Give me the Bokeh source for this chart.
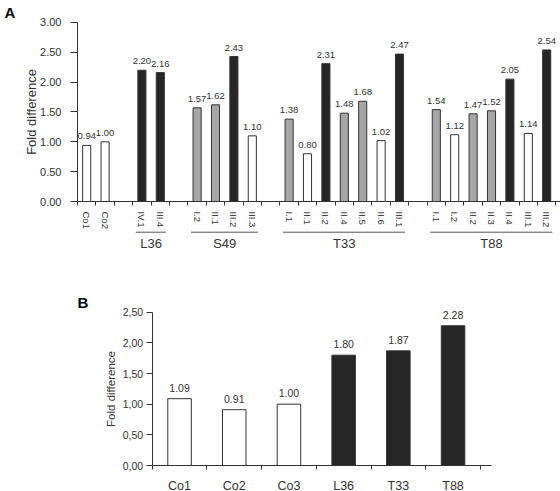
from bokeh.plotting import figure
from bokeh.models import Range1d, FixedTicker, ColumnDataSource, NumeralTickFormatter
from bokeh.layouts import column
from bokeh.embed import file_html
from bokeh.resources import INLINE
from bokeh.core.properties import value

FONT = "Liberation Sans"
TXT = "#333333"
LINE = "#333333"

# ---------------- Panel A data ----------------
a_group_names = ["", "L36", "S49", "T33", "T88"]
a_group_sizes = [2, 2, 4, 7, 7]
a_labels = ["Co1", "Co2",
            "IV.1", "III.4",
            "I.2", "II.1", "III.2", "III.3",
            "I.1", "II.1", "II.2", "II.4", "II.5", "II.6", "III.1",
            "I.1", "I.2", "II.2", "II.3", "II.4", "III.1", "III.2"]
a_values = [0.94, 1.00,
            2.20, 2.16,
            1.57, 1.62, 2.43, 1.10,
            1.38, 0.80, 2.31, 1.48, 1.68, 1.02, 2.47,
            1.54, 1.12, 1.47, 1.52, 2.05, 1.14, 2.54]
a_classes = ["control", "control",
             "high", "high",
             "mid", "mid", "high", "low",
             "mid", "low", "high", "mid", "mid", "low", "high",
             "mid", "low", "mid", "mid", "high", "low", "high"]
a_y_ticks = [0.0, 0.5, 1.0, 1.5, 2.0, 2.5, 3.0]

# ---------------- Panel B data ----------------
b_labels = ["Co1", "Co2", "Co3", "L36", "T33", "T88"]
b_values = [1.09, 0.91, 1.00, 1.80, 1.87, 2.28]
b_classes = ["control", "control", "control", "high", "high", "high"]
b_y_ticks = [0.0, 0.5, 1.0, 1.5, 2.0, 2.5]

fill_map = {"control": "white", "low": "white", "mid": "#a6a6a6", "high": "#262626"}


def style_common(p):
    p.xgrid.visible = False
    p.ygrid.visible = False
    p.outline_line_color = None
    p.background_fill_color = "white"
    p.border_fill_color = "white"
    for ax in (p.xaxis, p.yaxis):
        ax.axis_line_color = LINE
        ax.major_tick_line_color = LINE
        ax.minor_tick_line_color = LINE
        ax.major_label_text_color = TXT
        ax.major_label_text_font = FONT
        ax.axis_label_text_font = FONT
        ax.axis_label_text_font_style = "normal"
        ax.axis_label_text_color = TXT
        ax.major_tick_in = 0
        ax.minor_tick_in = 0
        ax.fixed_location = 0


# ---------------- Panel A ----------------
A_W, A_H = 560, 290
A_X0, A_SLOT = 77.0, 18.4      # canvas px of x=0, px per category slot
A_Y0, A_UNIT = 201.0, 59.67    # canvas px of y=0, px per unit

a_x = []
spans = []
pos = 0
for name, size in zip(a_group_names, a_group_sizes):
    start = pos
    for k in range(size):
        a_x.append(pos + 0.5)
        pos += 1
    spans.append((name, start + 0.5, pos - 0.5))
    pos += 1
n_slots = pos - 1

srcA = ColumnDataSource(dict(
    x=a_x, top=a_values,
    fill=[fill_map[c] for c in a_classes],
    label=["%.2f" % v for v in a_values],
))

ax_start, ax_end = -A_X0 / A_SLOT, (A_W - A_X0) / A_SLOT
ay_start, ay_end = -(A_H - A_Y0) / A_UNIT, A_Y0 / A_UNIT
pA = figure(width=A_W, height=A_H, x_range=Range1d(ax_start, ax_end),
            y_range=Range1d(ay_start, ay_end),
            output_backend="svg", toolbar_location=None, min_border=0,
            min_border_left=0, min_border_right=0, min_border_top=0, min_border_bottom=0)
style_common(pA)

pA.vbar(x="x", top="top", bottom=0, width=0.44, fill_color="fill", line_color=LINE,
        line_width=1, source=srcA)
pA.text(x="x", y="top", text="label", source=srcA, text_align="center", text_baseline="middle",
        y_offset=-9, text_font=value(FONT), text_font_size="9.5px", text_color=TXT)

g_names = [s[0] for s in spans if s[0]]
g_x0 = [s[1] - 0.33 for s in spans if s[0]]
g_x1 = [s[2] + 0.30 for s in spans if s[0]]
g_xc = [(s[1] + s[2]) / 2 for s in spans if s[0]]
under_y = -30.7 / A_UNIT
pA.segment(x0=g_x0, y0=[under_y] * len(g_names), x1=g_x1, y1=[under_y] * len(g_names),
           line_color="#555555", line_width=1)
pA.text(x=g_xc, y=[under_y] * len(g_names), text=g_names, text_align="center",
        text_baseline="middle", y_offset=11.5, text_font=value(FONT), text_font_size="13px",
        text_color=TXT)

pA.xaxis.bounds = (0, ax_end)
pA.xaxis.ticker = FixedTicker(ticks=a_x, minor_ticks=list(range(0, n_slots + 1)))
pA.xaxis.major_label_overrides = {x: lab for x, lab in zip(a_x, a_labels)}
pA.xaxis.major_label_orientation = "vertical"
pA.xaxis.major_tick_out = 0
pA.xaxis.minor_tick_out = 4
pA.xaxis.major_label_standoff = 6
pA.xaxis.major_label_text_font_size = "9.5px"

pA.yaxis.ticker = FixedTicker(ticks=a_y_ticks, minor_ticks=[])
pA.yaxis.formatter = NumeralTickFormatter(format="0.00")
pA.yaxis.bounds = (0, 3)
pA.yaxis.major_tick_out = 7
pA.yaxis.minor_tick_out = 0
pA.yaxis.major_label_standoff = 9
pA.yaxis.major_label_text_font_size = "11px"
pA.yaxis.axis_label = "Fold difference"
pA.yaxis.axis_label_text_font_size = "13px"
pA.yaxis.axis_label_standoff = -2

pA.text(x=[ax_start], y=[ay_end], text=["A"], x_offset=4, y_offset=3, text_align="left",
        text_baseline="top", text_font=value(FONT), text_font_style="bold",
        text_font_size="15px", text_color="black")

# ---------------- Panel B ----------------
B_W, B_H = 560, 201
B_X0, B_SLOT = 151.7, 54.7
B_Y0, B_UNIT = 175.0, 61.3

b_x = [i + 0.5 for i in range(len(b_labels))]
srcB = ColumnDataSource(dict(
    x=b_x, top=b_values,
    fill=[fill_map[c] for c in b_classes],
    label=["%.2f" % v for v in b_values],
))

bx_start, bx_end = -B_X0 / B_SLOT, (B_W - B_X0) / B_SLOT
by_start, by_end = -(B_H - B_Y0) / B_UNIT, B_Y0 / B_UNIT
pB = figure(width=B_W, height=B_H, x_range=Range1d(bx_start, bx_end),
            y_range=Range1d(by_start, by_end),
            output_backend="svg", toolbar_location=None, min_border=0,
            min_border_left=0, min_border_right=0, min_border_top=0, min_border_bottom=0)
style_common(pB)

pB.vbar(x="x", top="top", bottom=0, width=0.43, fill_color="fill", line_color=LINE,
        line_width=1, source=srcB)
pB.text(x="x", y="top", text="label", source=srcB, text_align="center", text_baseline="middle",
        y_offset=-11, text_font=value(FONT), text_font_size="10.5px", text_color=TXT)

pB.xaxis.bounds = (0, 6.2)
pB.xaxis.ticker = FixedTicker(ticks=b_x, minor_ticks=list(range(0, len(b_labels) + 1)))
pB.xaxis.major_label_overrides = {x: lab for x, lab in zip(b_x, b_labels)}
pB.xaxis.major_tick_out = 0
pB.xaxis.minor_tick_out = 4
pB.xaxis.major_label_standoff = 9
pB.xaxis.major_label_text_font_size = "12.5px"

pB.yaxis.bounds = (0, 2.5)
pB.yaxis.ticker = FixedTicker(ticks=b_y_ticks, minor_ticks=[])
pB.yaxis.major_label_overrides = {t: ("%.2f" % t).replace(".", ",") for t in b_y_ticks}
pB.yaxis.major_tick_out = 6
pB.yaxis.minor_tick_out = 0
pB.yaxis.major_label_standoff = 3
pB.yaxis.major_label_text_font_size = "10.5px"
pB.yaxis.axis_label = "Fold difference"
pB.yaxis.axis_label_text_font_size = "11.5px"
pB.yaxis.axis_label_standoff = 3

pB.text(x=[bx_start + 77 / B_SLOT], y=[by_end], text=["B"], x_offset=0, y_offset=3,
        text_align="left", text_baseline="top", text_font=value(FONT),
        text_font_style="bold", text_font_size="15px", text_color="black")

layout = column(pA, pB)
open("out.html", "w").write(file_html(layout, INLINE))
